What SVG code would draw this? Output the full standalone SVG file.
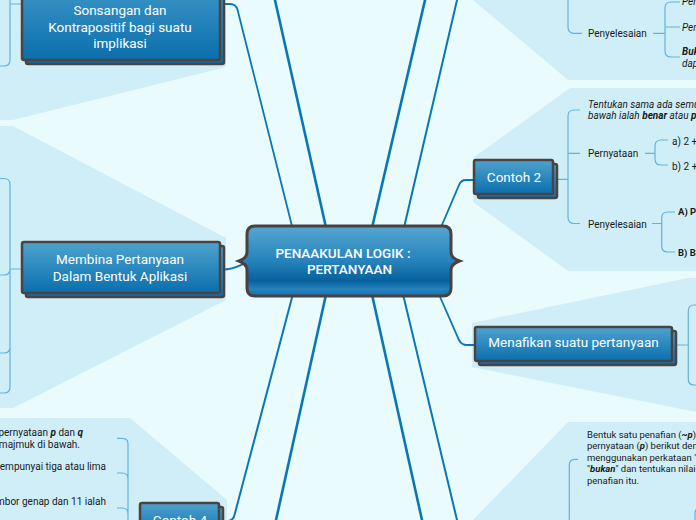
<svg xmlns="http://www.w3.org/2000/svg" width="696" height="520" viewBox="0 0 696 520">
<defs>
<linearGradient id="gNode" x1="0" y1="0" x2="0" y2="1">
<stop offset="0" stop-color="#4ea3cf"/><stop offset="1" stop-color="#0a6fad"/>
</linearGradient>
<linearGradient id="gCenter" x1="0" y1="0" x2="0" y2="1">
<stop offset="0" stop-color="#55a6d1"/><stop offset="0.5" stop-color="#2683bb"/><stop offset="0.78" stop-color="#07619c"/><stop offset="0.9" stop-color="#2482bc"/><stop offset="1" stop-color="#1670ad"/>
</linearGradient>
</defs>
<style>
.panel{fill:#cfeef8}
.main{fill:none;stroke:#0a77b5;stroke-linecap:round}
.sub{fill:none;stroke:#62b3dc;stroke-width:1.2}
.box{fill:url(#gNode);stroke:#4b4242;stroke-width:2.5}
.nt{font-family:Roboto,'Liberation Sans',sans-serif;font-size:13.5px;fill:#ffffff;text-anchor:middle}
.st{font-family:Roboto,'Liberation Sans',sans-serif;font-size:10px;fill:#1a1a1a}
.sm{font-size:9.5px}
.it{font-style:italic}
.b{font-weight:bold}
</style>
<rect width="696" height="520" fill="#e9fbfc"/>
<g id="panels">
<polygon class="panel" points="0,0 226,0 226,67 13,120 0,120"/>
<polygon class="panel" points="0,126 13,126 226,238 226,300 13,408 0,408"/>
<polygon class="panel" points="0,418 130,418 227,500 227,520 0,520"/>
<polygon class="panel" points="473,0 696,0 696,80 568,80"/>
<polygon class="panel" points="570,88 696,88 696,271 568,271 473,202 473,158"/>
<polygon class="panel" points="472,323 688,278 696,278 696,412 472,367"/>
<polygon class="panel" points="568,422 696,422 696,520 473,520"/>
</g>
<g id="connectors">
<path class="main" stroke-width="1.8" d="M224,4 H230 Q236,4 237.6,10 L293.5,232"/>
<path class="main" stroke-width="2.6" d="M270.5,-20 L327,232"/>
<path class="main" stroke-width="2.6" d="M429.7,-20 L371,232"/>
<path class="main" stroke-width="2" d="M461.7,-20 L403,232"/>
<path class="main" stroke-width="1.8" d="M439,232 L459.5,184 Q461.5,180 466,180 H474"/>
<path class="main" stroke-width="1.8" d="M224,269.5 C233,269.5 238,266 248,262"/>
<path class="main" stroke-width="2" d="M294,290 L234.5,515 Q233,521 227,521 H223"/>
<path class="main" stroke-width="2.6" d="M327,290 L273.8,530"/>
<path class="main" stroke-width="2.6" d="M371,290 L424.2,530"/>
<path class="main" stroke-width="2" d="M402,290 L459.4,530"/>
<path class="main" stroke-width="1.8" d="M437,290 L459,340 Q461.5,345 467,345 H475"/>
<path class="sub" d="M22,4 H10 M10,-10 V60 Q10,66 4,66 H0"/>
<path class="sub" d="M22,269 H10 M0,178.5 H4 Q10,178.5 10,184.5 V387 Q10,393 4,393 H0 M10,269 Q10,275 4,275 H0 M10,347 Q10,353 4,353 H0"/>
<path class="sub" d="M568,-10 V27 Q568,33.3 574,33.3 H582"/>
<path class="sub" d="M653,33.3 H665 M680,2 H671 Q665,2 665,8 V51 Q665,57 671,57 H680 M665,27 H680"/>
<path class="sub" d="M557,179.3 H568 M580,110 H574 Q568,110 568,116 V217 Q568,223.5 574,223.5 H580 M568,153.3 H580"/>
<path class="sub" d="M645,153.3 H655 M668,140 H661 Q655,140 655,146 V159 Q655,165 661,165 H668"/>
<path class="sub" d="M652,223.5 H661.7 M675,212 H667.7 Q661.7,212 661.7,218 V246 Q661.7,252 667.7,252 H675"/>
<path class="sub" d="M676,345 H688.3 M696,305 H694 Q688.3,305 688.3,311 V379 Q688.3,385 694,385 H696"/>
<path class="sub" d="M578,459.3 H575 Q569.3,459.3 569.3,465 V530 M700,508 H699 Q695,508 695,514 V530"/>
<path class="sub" d="M117,438.3 H122 Q128,438.3 128,444 V530 M117,473 H122 Q128,473 128,479 M117,508 H122 Q128,508 128,514"/>
</g>
<g id="node-sonsangan">
<rect class="box" x="26" y="-36" width="198" height="100" rx="2"/>
<rect class="box" x="22" y="-40" width="198" height="100" rx="2"/>
<text class="nt" x="120" y="15">Sonsangan dan</text>
<text class="nt" x="120" y="31.5">Kontrapositif bagi suatu</text>
<text class="nt" x="120" y="48">implikasi</text>
</g>
<g id="node-membina">
<rect class="box" x="26" y="246" width="198" height="51" rx="2"/>
<rect class="box" x="22" y="242" width="198" height="51" rx="2"/>
<text class="nt" x="120" y="263.5">Membina Pertanyaan</text>
<text class="nt" x="120" y="280.5">Dalam Bentuk Aplikasi</text>
</g>
<g id="node-contoh2">
<rect class="box" x="478" y="164" width="79" height="34" rx="2"/>
<rect class="box" x="474" y="160" width="79" height="34" rx="2"/>
<text class="nt" x="514" y="182.3">Contoh 2</text>
</g>
<g id="node-menafikan">
<rect class="box" x="479" y="331" width="197" height="34" rx="2"/>
<rect class="box" x="475" y="327" width="197" height="34" rx="2"/>
<text class="nt" x="573.5" y="347.3">Menafikan suatu pertanyaan</text>
</g>
<g id="node-contoh4">
<rect class="box" x="144" y="507" width="79" height="34" rx="2"/>
<rect class="box" x="140" y="503" width="79" height="34" rx="2"/>
<text class="nt" x="180" y="525">Contoh 4</text>
</g>
<g id="node-central">
<path d="M255,226 H443 Q451,226 451,234 V252 Q451,258 459.5,261 Q451,264 451,270 V288 Q451,296 443,296 H255 Q247,296 247,288 V270 Q247,264 239,261 Q247,258 247,252 V234 Q247,226 255,226 Z" fill="url(#gCenter)" stroke="#4b4040" stroke-width="3"/>
<text class="nt" x="343" y="257.7" font-size="14" font-weight="500">PENAAKULAN LOGIK :</text>
<text class="nt" x="349.5" y="274" font-size="14" font-weight="500">PERTANYAAN</text>
</g>
<g id="node-c1-penyelesaian"><text class="st" x="588" y="36.8">Penyelesaian</text></g>
<g id="node-c1-items">
<text class="st it" x="682" y="4.5">Per</text>
<text class="st it" x="682" y="31">Pen</text>
<text class="st it b" x="682" y="55">Buk</text>
<text class="st it" x="682" y="66.5">dap</text>
</g>
<g id="node-c2-soalan">
<text class="st it" x="588" y="107.5">Tentukan sama ada semua</text>
<text class="st it" x="588" y="118.5">bawah ialah <tspan class="b">benar</tspan> atau <tspan class="b">palsu</tspan></text>
</g>
<g id="node-c2-pernyataan"><text class="st" x="588" y="157">Pernyataan</text></g>
<g id="node-c2-a"><text class="st" x="672" y="144.5">a) 2 +</text></g>
<g id="node-c2-b"><text class="st" x="672" y="169.5">b) 2 +</text></g>
<g id="node-c2-penyelesaian"><text class="st" x="588" y="227.5">Penyelesaian</text></g>
<g id="node-c2-A"><text class="st sm b" x="678" y="214.5">A) P</text></g>
<g id="node-c2-B"><text class="st sm b" x="678" y="256">B) B</text></g>
<g id="node-c4-soalan">
<text class="st" x="83" y="436" text-anchor="end">pernyataan <tspan class="it b">p</tspan> dan <tspan class="it b">q</tspan></text>
<text class="st" x="80" y="448" text-anchor="end">majmuk di bawah.</text>
</g>
<g id="node-c4-a"><text class="st" x="106" y="470" text-anchor="end">empunyai tiga atau lima</text></g>
<g id="node-c4-b"><text class="st" x="106" y="505" text-anchor="end">mbor genap dan 11 ialah</text></g>
<g id="node-menafikan-soalan">
<text class="st sm" x="587" y="437.5">Bentuk satu penafian (<tspan class="it b">~p</tspan>)</text>
<text class="st sm" x="587" y="449">pernyataan (<tspan class="it b">p</tspan>) berikut dengan</text>
<text class="st sm" x="587" y="460.5">menggunakan perkataan "</text>
<text class="st sm" x="587" y="472">"<tspan class="it b">bukan</tspan>" dan tentukan nilai</text>
<text class="st sm" x="587" y="483.5">penafian itu.</text>
</g>
</svg>
